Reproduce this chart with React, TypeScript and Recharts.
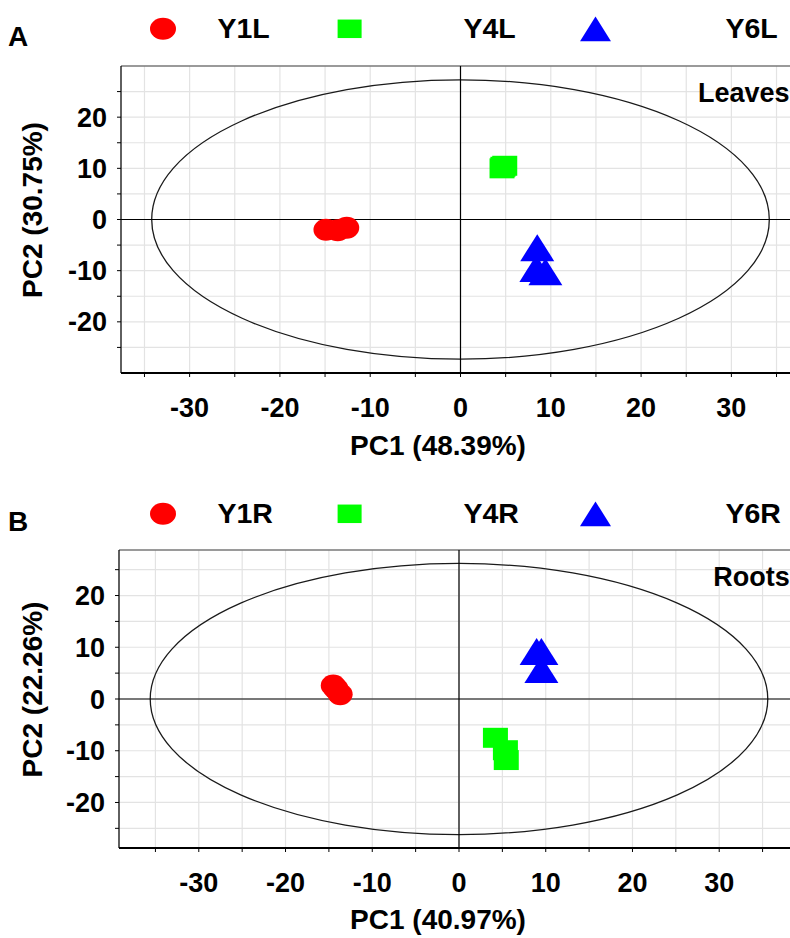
import React from 'react';
import { ScatterChart, Scatter, XAxis, YAxis, CartesianGrid, ReferenceLine, ReferenceArea } from 'recharts';

const FONT = "'Liberation Sans', Arial, Helvetica, sans-serif";

// A – leaves (PC1 / PC2 scores)
const Y1L = [{ x: -14.9, y: -2.0 }, { x: -13.6, y: -2.1 }, { x: -12.6, y: -1.6 }];
const Y4L = [{ x: 4.6, y: 10.0 }, { x: 4.7, y: 10.3 }, { x: 4.9, y: 10.5 }];
const Y6L = [{ x: 8.5, y: -5.5 }, { x: 8.4, y: -9.6 }, { x: 9.4, y: -10.2 }];

// B – roots
const Y1R = [{ x: -14.5, y: 2.6 }, { x: -14.2, y: 2.0 }, { x: -13.7, y: 0.9 }];
const Y4R = [{ x: 4.2, y: -7.5 }, { x: 5.35, y: -9.9 }, { x: 5.45, y: -11.8 }];
const Y6R = [{ x: 8.95, y: 9.2 }, { x: 9.5, y: 9.2 }, { x: 9.5, y: 5.7 }];

const X_TICKS = [-35, -30, -25, -20, -15, -10, -5, 0, 5, 10, 15, 20, 25, 30, 35];
const Y_TICKS = [-25, -20, -15, -10, -5, 0, 5, 10, 15, 20, 25];

// Hotelling ellipse semi-axes
const LEAVES_ELLIPSE = { a: 34.2, b: 27.3 };
const ROOTS_ELLIPSE = { a: 35.6, b: 26.2 };

const COLORS = ['#ff0000', '#00ff00', '#0000ff'];
const SHAPES = ['circle', 'square', 'triangle'];

const LEAVES = [
  { name: 'Y1L', data: Y1L },
  { name: 'Y4L', data: Y4L },
  { name: 'Y6L', data: Y6L },
];
const ROOTS = [
  { name: 'Y1R', data: Y1R },
  { name: 'Y4R', data: Y4R },
  { name: 'Y6R', data: Y6R },
];

const POINT_SIZE: Record<string, [number, number]> = {
  circle: [25, 22],
  square: [25, 20],
  triangle: [34, 27],
};
const LEGEND_SIZE: Record<string, [number, number]> = {
  circle: [26, 22],
  square: [24, 18.5],
  triangle: [31, 24.7],
};

function Marker({ kind, cx, cy, w, h, fill }: any) {
  if (kind === 'circle') return <ellipse cx={cx} cy={cy} rx={w / 2} ry={h / 2} fill={fill} />;
  if (kind === 'square') return <rect x={cx - w / 2} y={cy - h / 2} width={w} height={h} fill={fill} />;
  return (
    <polygon
      points={`${cx},${cy - h / 2} ${cx + w / 2},${cy + h / 2} ${cx - w / 2},${cy + h / 2}`}
      fill={fill}
    />
  );
}

const EllipseShape = (p: any) => (
  <ellipse
    cx={p.x + p.width / 2}
    cy={p.y + p.height / 2}
    rx={Math.abs(p.width) / 2}
    ry={Math.abs(p.height) / 2}
    fill="none"
    stroke="#1a1a1a"
    strokeWidth={1.3}
  />
);

const tickFmt = (v: number) => (v % 10 === 0 ? String(v) : '');
const TICK = { fill: '#000', fontSize: 27, fontWeight: 700, fontFamily: FONT };

function PcaPanel({ series, ellipse, xMax, yMax, width, height, margin }: any) {
  return (
    <ScatterChart width={width} height={height} margin={margin}>
      <CartesianGrid stroke="#e3e3e3" strokeWidth={1.2} />
      <XAxis
        type="number"
        dataKey="x"
        domain={[-xMax, xMax]}
        ticks={X_TICKS}
        interval={0}
        allowDataOverflow
        tickFormatter={tickFmt}
        tick={TICK}
        stroke="#000"
        tickSize={4}
        tickMargin={21}
        axisLine={{ stroke: '#000', strokeWidth: 2 }}
        tickLine={{ stroke: '#000' }}
        height={60}
      />
      <YAxis
        type="number"
        dataKey="y"
        domain={[-yMax, yMax]}
        ticks={Y_TICKS}
        interval={0}
        allowDataOverflow
        tickFormatter={tickFmt}
        tick={TICK}
        stroke="#000"
        tickSize={4}
        tickMargin={10}
        axisLine={{ stroke: '#000', strokeWidth: 1.2 }}
        tickLine={{ stroke: '#000' }}
        width={60}
      />
      <ReferenceLine y={yMax} stroke="#444" strokeWidth={1.2} />
      <ReferenceLine x={0} stroke="#000" strokeWidth={1.2} />
      <ReferenceLine y={0} stroke="#000" strokeWidth={1.2} />
      <ReferenceArea
        x1={-ellipse.a}
        x2={ellipse.a}
        y1={-ellipse.b}
        y2={ellipse.b}
        shape={EllipseShape}
      />
      {series.map((s: any, i: number) => {
        const kind = SHAPES[i];
        const [w, h] = POINT_SIZE[kind];
        return (
          <Scatter
            key={s.name}
            name={s.name}
            data={s.data}
            fill={COLORS[i]}
            isAnimationActive={false}
            shape={(p: any) => <Marker kind={kind} cx={p.cx} cy={p.cy} w={w} h={h} fill={COLORS[i]} />}
          />
        );
      })}
    </ScatterChart>
  );
}

const LEGEND_MARKER_X = [163, 349.6, 595.5];
const LEGEND_TEXT_X = [217.5, 463.5, 725.4];

function Overlay({ series, letter, tag, tagX, xTitle, yTitle, dy, tagY, titleY, yCenter }: any) {
  const text = { fontFamily: FONT, fontWeight: 700, fill: '#000' } as const;
  return (
    <g transform={`translate(0, ${dy})`}>
      <text x={8} y={46} fontSize={28} {...text}>{letter}</text>
      {series.map((s: any, i: number) => {
        const kind = SHAPES[i];
        const [w, h] = LEGEND_SIZE[kind];
        return (
          <g key={s.name}>
            <Marker kind={kind} cx={LEGEND_MARKER_X[i]} cy={28.8} w={w} h={h} fill={COLORS[i]} />
            <text x={LEGEND_TEXT_X[i]} y={38.3} fontSize={28.5} {...text}>{s.name}</text>
          </g>
        );
      })}
      <text x={tagX} y={tagY} fontSize={27} {...text}>{tag}</text>
      <text x={438} y={titleY} fontSize={28} textAnchor="middle" {...text}>{xTitle}</text>
      <text
        transform={`translate(42, ${yCenter}) rotate(-90)`}
        fontSize={28}
        textAnchor="middle"
        {...text}
      >
        {yTitle}
      </text>
    </g>
  );
}

export default function App() {
  return (
    <div
      style={{
        position: 'absolute',
        left: 0,
        top: 0,
        width: 790,
        height: 938,
        overflow: 'hidden',
        background: '#fff',
      }}
    >
      <div style={{ position: 'absolute', left: 0, top: 0 }}>
        <PcaPanel
          series={LEAVES}
          ellipse={LEAVES_ELLIPSE}
          xMax={37.6}
          yMax={30}
          width={800}
          height={470}
          margin={{ top: 66, right: 0, bottom: 37, left: 61 }}
        />
      </div>
      <div style={{ position: 'absolute', left: 0, top: 470 }}>
        <PcaPanel
          series={ROOTS}
          ellipse={ROOTS_ELLIPSE}
          xMax={39.2}
          yMax={28.8}
          width={799}
          height={468}
          margin={{ top: 80, right: 0, bottom: 30, left: 59 }}
        />
      </div>
      <svg
        width={790}
        height={938}
        style={{ position: 'absolute', left: 0, top: 0, pointerEvents: 'none' }}
      >
        <Overlay
          series={LEAVES}
          letter="A"
          tag="Leaves"
          tagX={698}
          tagY={101.7}
          xTitle="PC1 (48.39%)"
          yTitle="PC2 (30.75%)"
          titleY={455}
          yCenter={210}
          dy={0}
        />
        <Overlay
          series={ROOTS}
          letter="B"
          tag="Roots"
          tagX={713.3}
          tagY={585.7 - 485}
          xTitle="PC1 (40.97%)"
          yTitle="PC2 (22.26%)"
          titleY={929 - 485}
          yCenter={689.5 - 485}
          dy={485}
        />
      </svg>
    </div>
  );
}
